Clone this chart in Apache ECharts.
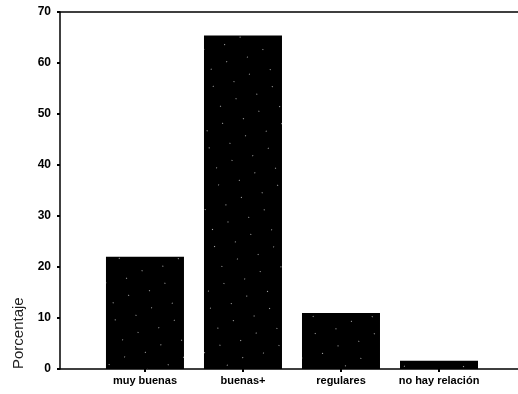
<!DOCTYPE html>
<html>
<head>
<meta charset="utf-8">
<script src="https://cdn.jsdelivr.net/npm/echarts@6/dist/echarts.min.js"></script>
<style>
  html, body { margin: 0; padding: 0; background: #fff; }
  #chart { width: 518px; height: 394px; }
</style>
</head>
<body>
<div id="chart"></div>
<script>
// categorias y valores (porcentaje)
var categorias = ['muy buenas', 'buenas+', 'regulares', 'no hay relación'];
var valores = [22, 65.4, 11, 1.6];
var posiciones = [1, 2, 3, 4];
var yTicks = [0, 10, 20, 30, 40, 50, 60, 70];

(function () {
    var myChart = echarts.init(document.getElementById('chart'));

    var font = 'Liberation Sans, Arial, sans-serif';

    var option = {
        animation: false,
        grid: { left: 60, right: 0, top: 12, bottom: 25, containLabel: false, outerBoundsMode: 'none' },
        xAxis: [{
            type: 'value',
            min: 0.133,
            max: 4.806,
            splitLine: { show: false },
            axisLine: { show: true, lineStyle: { color: '#000', width: 1.5 } },
            axisTick: { show: true, length: 3, customValues: posiciones, lineStyle: { color: '#000', width: 2 } },
            axisLabel: {
                customValues: posiciones,
                formatter: function (v) { return categorias[Math.round(v) - 1] || ''; },
                color: '#000', fontFamily: font, fontWeight: 'bold', fontSize: 11, margin: 6
            }
        }, {
            type: 'value',
            position: 'top',
            min: 0.133,
            max: 4.806,
            splitLine: { show: false },
            axisLine: { show: true, onZero: false, lineStyle: { color: '#000', width: 1.5 } },
            axisTick: { show: false },
            axisLabel: { show: false }
        }],
        yAxis: {
            type: 'value',
            min: yTicks[0],
            max: yTicks[yTicks.length - 1],
            interval: 10,
            name: 'Porcentaje',
            nameLocation: 'start',
            nameRotate: 90,
            nameGap: 0,
            nameTextStyle: { color: '#222', fontFamily: font, fontSize: 15, align: 'left', verticalAlign: 'bottom', padding: [0, 0, 34, 0] },
            splitLine: { show: false },
            axisLine: { show: true, lineStyle: { color: '#000', width: 1.5 } },
            axisTick: { show: true, length: 3, inside: false, lineStyle: { color: '#000', width: 2 } },
            axisLabel: { color: '#000', fontFamily: font, fontWeight: 'bold', fontSize: 12, margin: 9 }
        },
        series: [{
            type: 'bar',
            barWidth: 78,
            data: posiciones.map(function (p, i) { return [p, valores[i]]; }),
            itemStyle: {
                color: '#000',
                decal: {
                    symbol: 'circle',
                    symbolSize: 0.35,
                    color: 'rgba(255,255,255,0.9)',
                    dashArrayX: [[0, 9, 3, 14], [0, 19, 3, 4]],
                    dashArrayY: [3, 11],
                    rotation: 0.5
                }
            }
        }]
    };

    myChart.setOption(option);
    window.addEventListener('resize', function () {
        myChart.resize();
    });
})();
</script>
</body>
</html>
